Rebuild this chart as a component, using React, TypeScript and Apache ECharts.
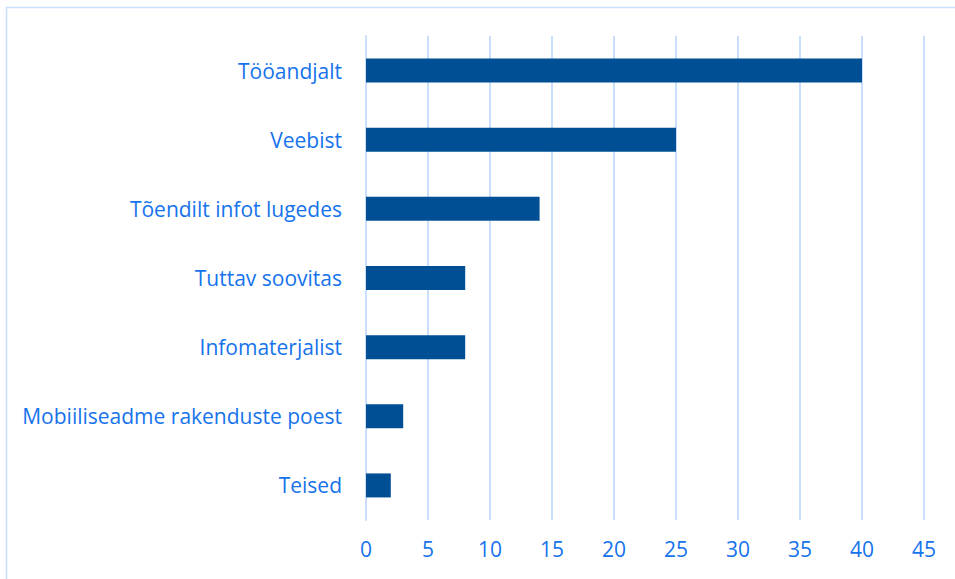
import React, { useEffect, useRef } from "react";
import * as echarts from "echarts";

const categories = [
  "Tööandjalt",
  "Veebist",
  "Tõendilt infot lugedes",
  "Tuttav soovitas",
  "Infomaterjalist",
  "Mobiiliseadme rakenduste poest",
  "Teised",
];
const values = [40, 25, 14, 8, 8, 3, 2];
const xTicks = [0, 5, 10, 15, 20, 25, 30, 35, 40, 45];

const TEXT = "#1673ec";
const BAR = "#004f94";
const GRID = "#c9dffb";

export default function App() {
  const ref = useRef<HTMLDivElement>(null);
  useEffect(() => {
    if (!ref.current) return;
    const chart = echarts.init(ref.current, null, { renderer: "svg" });
    chart.setOption({
      animation: false,
      backgroundColor: "#ffffff",
      textStyle: { fontFamily: "Open Sans" },
      graphic: [
        {
          type: "rect",
          shape: { x: 6.5, y: 7.5, width: 1000, height: 1000 },
          style: { fill: "none", stroke: GRID, lineWidth: 1.5 },
          silent: true,
        },
      ],
      grid: { left: 366, right: 31, top: 36, bottom: 59, containLabel: false },
      xAxis: {
        type: "value",
        min: xTicks[0],
        max: xTicks[xTicks.length - 1],
        interval: 5,
        axisLine: { show: false },
        axisTick: { show: false },
        axisLabel: { color: TEXT, fontSize: 21, margin: 18, fontFamily: "Open Sans" },
        splitLine: { show: true, lineStyle: { color: GRID, width: 2 } },
      },
      yAxis: {
        type: "category",
        inverse: true,
        data: categories,
        axisLine: { show: true, lineStyle: { color: GRID, width: 2 } },
        axisTick: { show: false },
        axisLabel: { color: TEXT, fontSize: 21, margin: 24, fontFamily: "Open Sans" },
      },
      series: [
        {
          type: "bar",
          data: values,
          barWidth: 24,
          itemStyle: { color: BAR },
        },
      ],
    });
    return () => chart.dispose();
  }, []);
  return (
    <div
      ref={ref}
      style={{ position: "absolute", left: 0, top: 0, width: 955, height: 579 }}
    />
  );
}
